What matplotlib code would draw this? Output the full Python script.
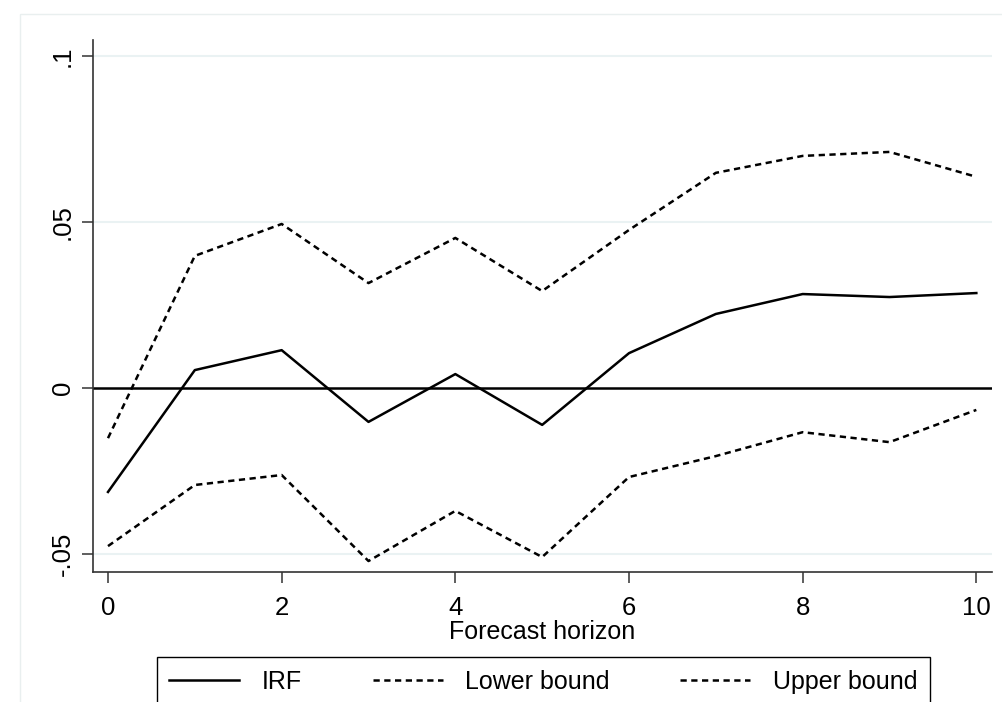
import matplotlib
matplotlib.use("Agg")
from matplotlib import pyplot as plt
from matplotlib.patches import Rectangle

plt.rcParams['font.family'] = ['Liberation Sans', 'DejaVu Sans']

horizon = [0, 1, 2, 3, 4, 5, 6, 7, 8, 9, 10]
irf = [-0.0313, 0.0054, 0.0114, -0.0102, 0.0042, -0.0111, 0.0105, 0.0223, 0.0283, 0.0274, 0.0286]
lower = [-0.0476, -0.0292, -0.0262, -0.0521, -0.0370, -0.0509, -0.0268, -0.0205, -0.0133, -0.0163, -0.0066]
upper = [-0.0151, 0.0398, 0.0494, 0.0316, 0.0452, 0.0292, 0.0476, 0.0648, 0.0699, 0.0711, 0.0636]

x_ticks = [0, 2, 4, 6, 8, 10]
y_ticks = [-0.05, 0, 0.05, 0.1]
y_labels = ["-.05", "0", ".05", ".1"]

fig = plt.figure(figsize=(10.03, 7.02), dpi=100)
ax = fig.add_axes([0.0927, 0.1852, 0.8963, 0.7578])

# faint outer graph region border
fig.patches.append(Rectangle((0.02, -0.1), 1.2, 1.08, transform=fig.transFigure,
                             fill=False, edgecolor="#e9efef", linewidth=1))

for yv in [-0.05, 0.05, 0.1]:
    ax.axhline(yv, color="#eaf2f3", linewidth=1.5, zorder=0)
ax.axhline(0, color="black", linewidth=1.8, zorder=1)

dash = (0, (2.5, 1.8))
ax.plot(horizon, irf, color="black", linewidth=1.8, label="IRF", zorder=3)
ax.plot(horizon, lower, color="black", linewidth=1.8, linestyle=dash, label="Lower bound", zorder=3)
ax.plot(horizon, upper, color="black", linewidth=1.8, linestyle=dash, label="Upper bound", zorder=3)

ax.set_xlim(-0.173, 10.18)
ax.set_ylim(-0.0554, 0.1048)
ax.set_xticks(x_ticks)
ax.set_xticklabels([str(t) for t in x_ticks])
ax.set_yticks(y_ticks)
ax.set_yticklabels(y_labels, rotation=90, va="center")

for s in ["top", "right"]:
    ax.spines[s].set_visible(False)
for s in ["left", "bottom"]:
    ax.spines[s].set_color("#333333")
    ax.spines[s].set_linewidth(1.2)

ax.tick_params(axis="both", labelsize=18.5, length=8, width=1.1, color="#333333")
ax.tick_params(axis="x", pad=9)
ax.tick_params(axis="y", pad=5)
ax.set_xlabel("Forecast horizon", fontsize=18, labelpad=0)

leg = fig.legend(loc="upper center", ncol=3, fontsize=18,
                 bbox_to_anchor=(0.1565, -0.05, 0.7707, 0.114),
                 bbox_transform=fig.transFigure, mode="expand",
                 borderaxespad=0, handlelength=2.8, handletextpad=0.9,
                 fancybox=False, framealpha=1, edgecolor="black", borderpad=0.5)
leg.get_frame().set_linewidth(1.0)

fig.savefig("out.png", dpi=100)
